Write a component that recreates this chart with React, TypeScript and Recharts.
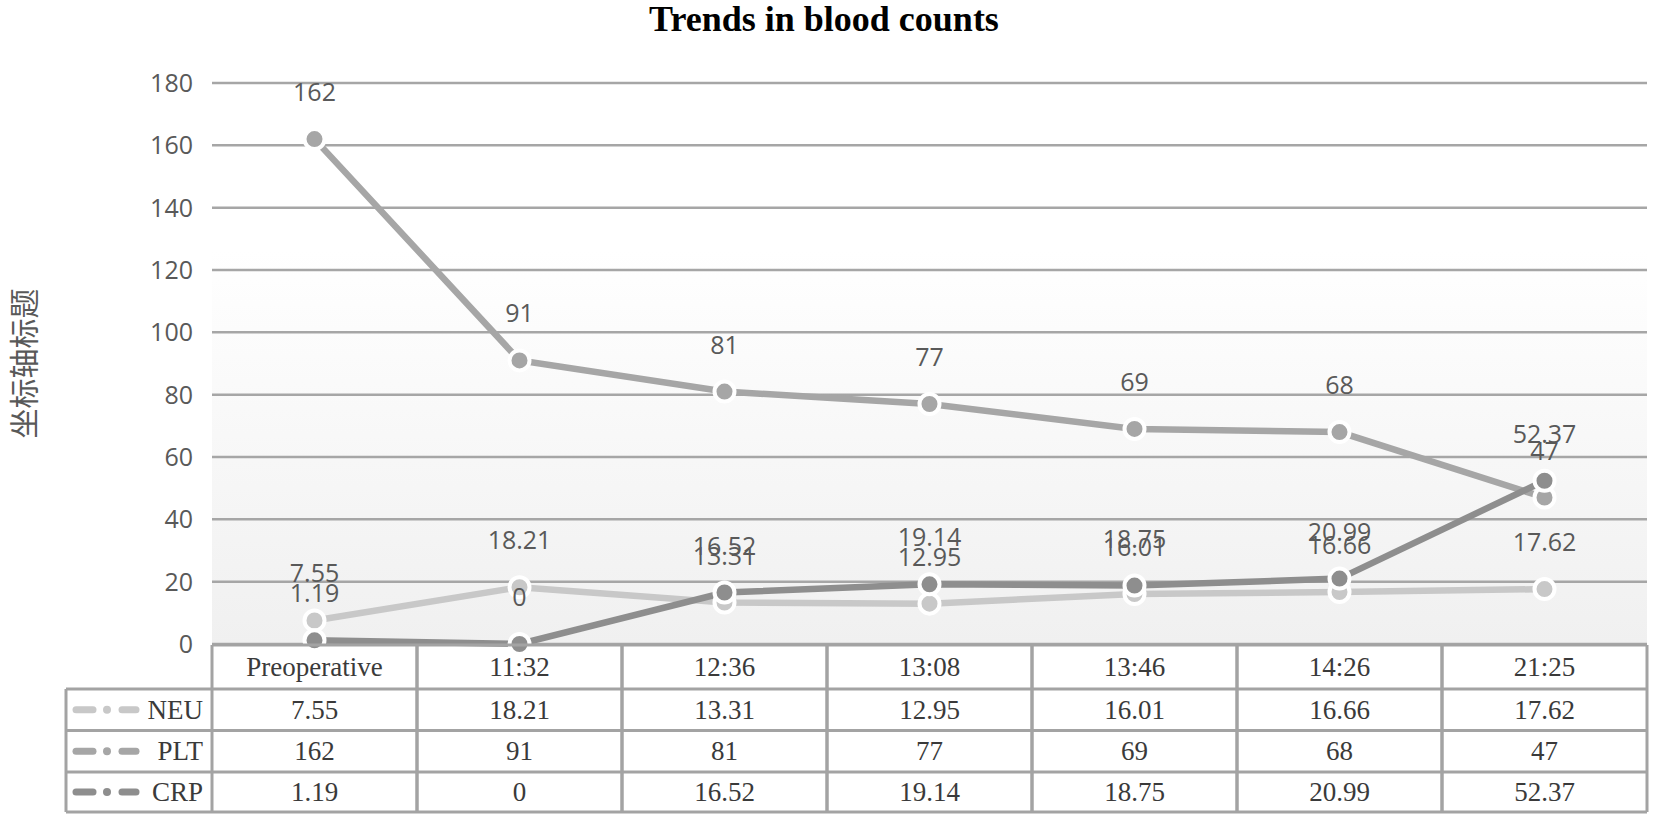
import React from "react";
import {
  ComposedChart,
  Line,
  XAxis,
  YAxis,
  CartesianGrid,
  LabelList,
  Customized,
} from "recharts";

const categories = ["Preoperative", "11:32", "12:36", "13:08", "13:46", "14:26", "21:25"];
const neu = [7.55, 18.21, 13.31, 12.95, 16.01, 16.66, 17.62];
const plt = [162, 91, 81, 77, 69, 68, 47];
const crp = [1.19, 0, 16.52, 19.14, 18.75, 20.99, 52.37];
const yTicks = [0, 20, 40, 60, 80, 100, 120, 140, 160, 180];

const series = [
  { key: "NEU", values: neu, color: "#c8c8c8" },
  { key: "PLT", values: plt, color: "#a6a6a6" },
  { key: "CRP", values: crp, color: "#8e8e8e" },
];

const chartData = categories.map((name, i) => ({
  name,
  NEU: neu[i],
  PLT: plt[i],
  CRP: crp[i],
}));

const BORDER = "#a3a3a3";
const TEXT = "#595959";
const SERIF = "'Liberation Serif', 'Times New Roman', serif";
const SANS = "'Open Sans', 'Noto Sans', sans-serif";

const PLOT_W = 1435;
const HALF_BAND = PLOT_W / categories.length / 2;

// row edges of the data table, relative to the axis top
const rowEdges = [1, 45, 86.5, 128, 168];

const TableTick = (props: any) => {
  const { x, y, payload, width } = props;
  const i = payload.index;
  const cellW = (Number(width) || PLOT_W) / categories.length;
  const left = x - cellW / 2;
  const right = x + cellW / 2;
  const top = y + rowEdges[0];
  const bottom = y + rowEdges[rowEdges.length - 1];
  const mid = (k: number) => y + (rowEdges[k] + rowEdges[k + 1]) / 2 + 9;

  const legendLeft = left - 146;

  return (
    <g>
      {rowEdges.map((r) => (
        <line key={r} x1={left} x2={right} y1={y + r} y2={y + r} stroke={BORDER} strokeWidth={3} />
      ))}
      <line x1={left} x2={left} y1={top} y2={bottom} stroke={BORDER} strokeWidth={3} />
      <line x1={right} x2={right} y1={top} y2={bottom} stroke={BORDER} strokeWidth={3} />
      <text x={x} y={mid(0)} textAnchor="middle" fontFamily={SERIF} fontSize={27} fill="#3a3a3a">
        {payload.value}
      </text>
      {series.map((s, k) => (
        <text
          key={s.key}
          x={x}
          y={mid(k + 1)}
          textAnchor="middle"
          fontFamily={SERIF}
          fontSize={27}
          fill="#3a3a3a"
        >
          {String(s.values[i])}
        </text>
      ))}
      {i === 0 && (
        <g>
          {rowEdges.slice(1).map((r) => (
            <line key={r} x1={legendLeft} x2={left} y1={y + r} y2={y + r} stroke={BORDER} strokeWidth={3} />
          ))}
          <line x1={legendLeft} x2={legendLeft} y1={y + rowEdges[1]} y2={bottom} stroke={BORDER} strokeWidth={3} />
          {series.map((s, k) => {
            const cy = y + (rowEdges[k + 1] + rowEdges[k + 2]) / 2;
            return (
              <g key={s.key}>
                <line x1={legendLeft + 10} x2={legendLeft + 27} y1={cy} y2={cy} stroke={s.color} strokeWidth={7} strokeLinecap="round" />
                <circle cx={legendLeft + 41} cy={cy} r={4} fill={s.color} />
                <line x1={legendLeft + 56} x2={legendLeft + 70} y1={cy} y2={cy} stroke={s.color} strokeWidth={7} strokeLinecap="round" />
                <text x={left - 9} y={cy + 9} textAnchor="end" fontFamily={SERIF} fontSize={27} fill="#3a3a3a">
                  {s.key}
                </text>
              </g>
            );
          })}
        </g>
      )}
    </g>
  );
};

const Title = () => (
  <g>
    <defs>
      <linearGradient id="plotBg" x1="0" y1="0" x2="0" y2="1">
        <stop offset="0%" stopColor="#ffffff" />
        <stop offset="30%" stopColor="#ffffff" />
        <stop offset="100%" stopColor="#f0f0f0" />
      </linearGradient>
    </defs>
    <text x={824} y={31} textAnchor="middle" fontFamily={SERIF} fontWeight="bold" fontSize={36} fill="#000">
      Trends in blood counts
    </text>
  </g>
);

export default function App() {
  return (
    <div style={{ position: "absolute", left: 0, top: 0, width: 1654, height: 821, background: "#fff" }}>
      <ComposedChart
        width={1654}
        height={821}
        data={chartData}
        margin={{ top: 83, right: 7, bottom: 0, left: 0 }}
      >
        <Customized component={Title} />
        <CartesianGrid vertical={false} stroke="#a6a6a6" strokeWidth={2.5} fill="url(#plotBg)" />
        <XAxis
          dataKey="name"
          axisLine={false}
          tickLine={false}
          tickSize={0}
          tickMargin={0}
          height={177}
          interval={0}
          padding={{ left: HALF_BAND, right: HALF_BAND }}
          tick={<TableTick />}
        />
        <YAxis
          width={212}
          domain={[0, 180]}
          ticks={yTicks}
          axisLine={false}
          tickLine={false}
          tickSize={0}
          tickMargin={19}
          tick={{ fill: TEXT, fontSize: 25, fontFamily: SANS }}
          label={{
            content: (p: any) => {
              const vb = p.viewBox || { y: 83, height: 561 };
              const cy = vb.y + vb.height / 2;
              return (
                <text
                  x={22}
                  y={cy}
                  transform={`rotate(-90, 22, ${cy})`}
                  textAnchor="middle"
                  dominantBaseline="central"
                  fontFamily="'Noto Sans CJK SC', sans-serif"
                  fontSize={30}
                  fill={TEXT}
                >
                  坐标轴标题
                </text>
              );
            },
          }}
        />
        {series.map((s) => (
          <Line
            key={s.key}
            dataKey={s.key}
            stroke={s.color}
            strokeWidth={6.5}
            dot={{ r: 10, fill: s.color, stroke: "#ffffff", strokeWidth: 4 }}
            activeDot={false}
            isAnimationActive={false}
          >
            <LabelList
              dataKey={s.key}
              position="top"
              offset={38}
              fill={TEXT}
              fontSize={25}
              fontFamily={SANS}
            />
          </Line>
        ))}
      </ComposedChart>
    </div>
  );
}
